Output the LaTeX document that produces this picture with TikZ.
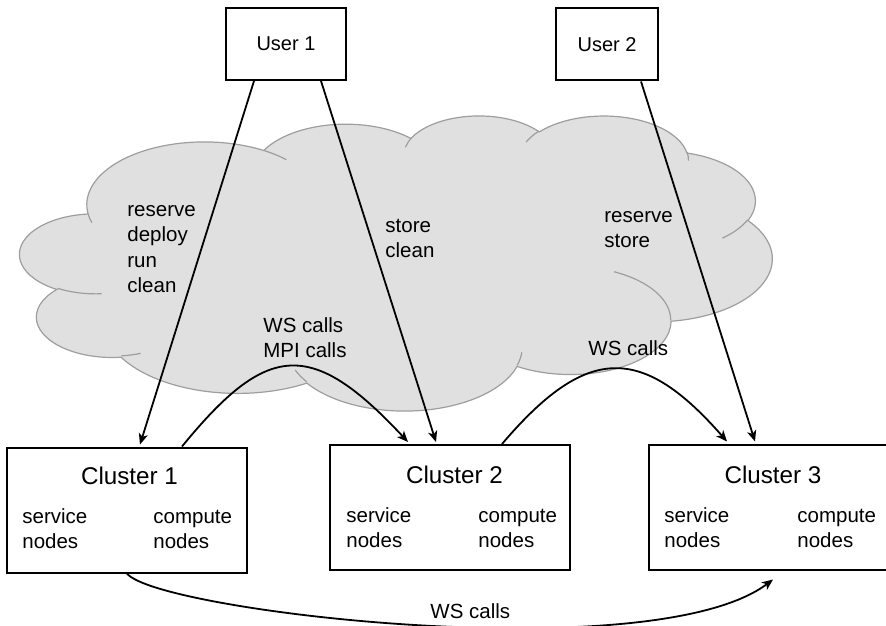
\documentclass[tikz,border=0pt]{standalone}
\usepackage{fontspec}
\setmainfont{Liberation Sans}
\usetikzlibrary{arrows.meta,positioning,calc}
\definecolor{cloudfill}{HTML}{E0E0E0}
\definecolor{cloudedge}{HTML}{9E9E9E}
\makeatletter
\pgfmathdeclarefunction{parang}{3}{%
  \begingroup
    \pgfmathparse{#3+mod(atan2(#1*sin(#3),#2*cos(#3))-(#3)+900,360)-180}%
    \pgfmath@smuggleone\pgfmathresult
  \endgroup}
\makeatother
\tikzset{
  lobe/.style n args={4}{x radius=#1,y radius=#2,
    start angle={parang(#1,#2,#3)},
    delta angle={parang(#1,#2,#3+#4)-parang(#1,#2,#3)}},
  userbox/.style={draw,line width=1pt,fill=white,inner sep=0pt,
    minimum height=36pt,font=\fontsize{10}{12}\selectfont},
  clusterbox/.style={draw,line width=1pt,fill=white,inner sep=0pt,
    minimum width=120pt,minimum height=62.5pt},
  ctitle/.style={anchor=base,inner sep=0pt,font=\fontsize{12.1}{14.5}\selectfont},
  lbl/.style={anchor=base west,inner sep=0pt,align=left,
    font=\fontsize{10.25}{12.5}\selectfont},
  flow/.style={line width=0.9pt,-{Stealth[length=5.5pt,width=4.6pt,inset=1.5pt]}}
}
\begin{document}
\begin{tikzpicture}[x=0.5pt,y=-0.5pt]
  \useasboundingbox (0,0) rectangle (886,625);
  \begin{scope}[shift={(20,115)},x=0.87037pt,y=-0.341435pt]
    \path[fill=cloudfill,draw=cloudedge,line width=0.6pt]
      (39.00,143.70)
      arc[lobe={67.53}{91.90}{-190.48748}{123.78053}]
      arc[lobe={53.33}{72.67}{-144.10238}{89.94523}]
      arc[lobe={43.65}{59.45}{-145.80792}{99.72302}]
      arc[lobe={48.57}{65.95}{-130.98607}{117.24173}]
      arc[lobe={53.33}{72.73}{-78.70888}{109.02692}]
      arc[lobe={67.75}{92.20}{-46.26725}{130.26900}]
      arc[lobe={57.85}{78.67}{0.62502}{114.03333}]
      arc[lobe={67.52}{92.15}{22.45160}{115.17255}]
      arc[lobe={77.20}{105.43}{66.24263}{75.71102}]
      arc[lobe={43.60}{59.18}{-274.94208}{146.73557}]
      arc[lobe={43.45}{59.45}{-246.82850}{152.51885}]
      -- cycle;
    \path[draw=cloudedge,line width=0.6pt]
      (46.93,261.77) arc[lobe={43.45}{59.45}{86.74200}{26.42950}]
      (69.28,348.99) arc[lobe={43.60}{59.18}{73.61047}{11.44747}]
      (164.78,390.90) arc[lobe={67.52}{92.15}{137.62415}{14.08110}]
      (288.27,347.51) arc[lobe={67.52}{92.15}{6.45327}{15.99835}]
      (341.29,229.54) arc[lobe={57.85}{78.67}{-70.29235}{70.91737}]
      (417.98,153.54) arc[lobe={53.33}{72.73}{30.31803}{27.75150}]
      (383.24,54.26) arc[lobe={48.57}{65.95}{-13.74433}{14.85890}]
      (290.78,39.52) arc[lobe={48.57}{65.95}{-149.18145}{18.19537}]
      (221.41,47.20) arc[lobe={43.65}{59.45}{-163.49427}{17.68635}]
      (140.00,51.92) arc[lobe={67.53}{91.90}{-66.70695}{12.31935}]
      (41.27,157.89) arc[lobe={67.53}{91.90}{157.65435}{11.85817}];
  \end{scope}

  \node[userbox,minimum width=60pt] (user1) at (286,44) {User 1};
  \node[userbox,minimum width=51pt] (user2) at (607,44.5) {User 2};

  \node[clusterbox] (cl1) at (127,510) {};
  \node[clusterbox] (cl2) at (450,507.5) {};
  \node[clusterbox] (cl3) at (769,507) {};

  \node[ctitle] (cl1title) at (129.5,484) {Cluster 1};
  \node[ctitle] (cl2title) at (454.5,483) {Cluster 2};
  \node[ctitle] (cl3title) at (773,483) {Cluster 3};
  \node[lbl] (cl1svc) at (22,548) {service\\nodes};
  \node[lbl] (cl1cmp) at (153,548) {compute\\nodes};
  \node[lbl] (cl2svc) at (346,547) {service\\nodes};
  \node[lbl] (cl2cmp) at (478,547) {compute\\nodes};
  \node[lbl] (cl3svc) at (664,547) {service\\nodes};
  \node[lbl] (cl3cmp) at (797,547) {compute\\nodes};

  \node[lbl] (ops1) at (127,292) {reserve\\deploy\\run\\clean};
  \node[lbl] (ops2) at (385,257) {store\\clean};
  \node[lbl] (ops3) at (604,248) {reserve\\store};
  \node[lbl] (calls12) at (263,357) {WS calls\\MPI calls};
  \node[lbl] (calls23) at (588,355) {WS calls};
  \node[lbl] (calls13) at (430,618) {WS calls};

  \draw[flow] ([shift={(-32,0)}]user1.south) -- ([shift={(13,-2)}]cl1.north);
  \draw[flow] ([shift={(35,0)}]user1.south) -- ([shift={(-14,-2)}]cl2.north);
  \draw[flow] ([shift={(34,0)}]user2.south) -- ([shift={(-14,-2)}]cl3.north);
  \draw[flow] ([shift={(55,0)}]cl1.north) .. controls +(85,-104) and +(-97,-104) .. ([shift={(-42,-2)}]cl2.north);
  \draw[flow] ([shift={(52,0)}]cl2.north) .. controls +(85,-100) and +(-85,-97) .. ([shift={(-42,-2)}]cl3.north);
  \draw[flow] (cl1.south) .. controls +(30,38) and +(-120,90) .. ([shift={(4,9)}]cl3.south);
\end{tikzpicture}
\end{document}
